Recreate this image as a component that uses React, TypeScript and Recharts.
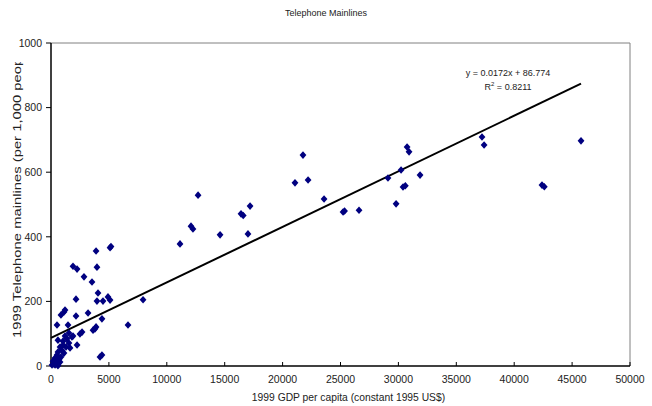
import React from "react"
import {
    ScatterChart,
    Scatter,
    XAxis,
    YAxis,
    ReferenceLine,
} from "recharts"

// 1999 GDP per capita (constant 1995 US$) and telephone mainlines per 1,000 people
const gdpPerCapita = [
    45770, 37220, 37400, 42400, 42600, 30750, 30920, 30230, 31870, 30400,
    30600, 29100, 29800, 26600, 25220, 25350, 23580, 22200, 21070, 21760,
    17190, 17010, 16410, 16600, 14600, 12700, 12090, 12260, 11140, 7950,
    6650, 5180, 5100, 3890, 1900, 2250, 2850, 3540, 3970, 2160,
    4060, 3970, 4490, 4920, 5100, 1120, 860, 1210, 2160, 3200,
    4400, 520, 1470, 3630, 3800, 3890, 2680, 2500, 2250, 4400,
    4230, 1210, 1380, 1550, 1040, 780, 1640, 600, 1120, 520,
    350, 860, 170, 520, 90, 350, 600, 780, 1300, 1810,
    1900, 1040, 1550, 600, 250, 420, 700, 950,
]
const mainlines = [
    697, 709, 684, 560, 555, 678, 663, 607, 591, 554,
    558, 582, 502, 482, 477, 480, 517, 576, 567, 653,
    495, 409, 471, 466, 406, 529, 433, 424, 378, 205,
    127, 370, 366, 356, 309, 300, 276, 260, 306, 207,
    226, 201, 201, 214, 204, 167, 158, 173, 155, 164,
    146, 127, 127, 111, 115, 121, 105, 99, 65, 34,
    28, 93, 84, 71, 65, 59, 56, 43, 40, 34,
    25, 28, 15, 9, 3, 3, 1, 12, 59, 90,
    93, 77, 102, 80, 6, 18, 22, 48,
]

const xTicks = [0, 5000, 10000, 15000, 20000, 25000, 30000, 35000, 40000, 45000, 50000]
const yTicks = [0, 200, 400, 600, 800, 1000]

// linear trend fitted to the series
const slope = 0.0172
const intercept = 86.774
const rSquared = 0.8211

const points = gdpPerCapita.map((gdp, i) => ({ gdp, lines: mainlines[i] }))
const xMax = Math.max(...gdpPerCapita)

const FONT = "'Liberation Sans', Arial, sans-serif"
const TEXT = "#222"

const Diamond = (props: any) => {
    const { cx, cy } = props
    if (cx == null || cy == null) return null
    return (
        <polygon
            points={`${cx},${cy - 3.8} ${cx + 3.4},${cy} ${cx},${cy + 3.8} ${cx - 3.4},${cy}`}
            fill="#000080"
        />
    )
}

// vertical title, stretched along its length and cut off near the top of the axis
const YTitle = () => (
    <g>
        <defs>
            <clipPath id="ytitle-clip">
                <rect x={0} y={62} width={45} height={320} />
            </clipPath>
        </defs>
        <g clipPath="url(#ytitle-clip)">
            <text
                transform="translate(21, 338) rotate(-90) scale(1.48, 1)"
                fontSize={10}
                fill={TEXT}
                fontFamily={FONT}
                textAnchor="start"
            >
                1999 Telephone mainlines (per 1,000 people)
            </text>
        </g>
    </g>
)

export default function App() {
    return (
        <div style={{ position: "absolute", left: 0, top: 0, width: 652, height: 406, background: "#fff", fontFamily: FONT }}>
            <div style={{ position: "absolute", left: 0, top: 8, width: 652, textAlign: "center", fontSize: 9, color: TEXT }}>
                Telephone Mainlines
            </div>
            <ScatterChart width={652} height={406} margin={{ top: 43, right: 22, bottom: 0, left: 0 }}>
                <XAxis
                    type="number"
                    dataKey="gdp"
                    domain={[0, 50000]}
                    ticks={xTicks}
                    interval={0}
                    height={40}
                    axisLine={{ stroke: "#000", strokeWidth: 1.5 }}
                    tickLine={{ stroke: "#000" }}
                    tickSize={-4}
                    tickMargin={14}
                    tick={{ fill: TEXT, fontSize: 10.5, fontFamily: FONT }}
                    label={{ value: "1999 GDP per capita (constant 1995 US$)", position: "insideBottom", offset: 5, dx: 8, fill: TEXT, fontSize: 10.3, fontFamily: FONT }}
                />
                <YAxis
                    type="number"
                    dataKey="lines"
                    domain={[0, 1000]}
                    ticks={yTicks}
                    interval={0}
                    width={51}
                    axisLine={{ stroke: "#000", strokeWidth: 1.5 }}
                    tickLine={{ stroke: "#000" }}
                    tickSize={5}
                    tickMargin={4}
                    tick={{ fill: TEXT, fontSize: 10.5, fontFamily: FONT }}
                    label={{ content: () => <YTitle /> }}
                />
                <ReferenceLine y={1000} stroke="#808080" />
                <ReferenceLine x={50000} stroke="#808080" />
                <Scatter data={points} shape={<Diamond />} isAnimationActive={false} />
                <ReferenceLine
                    segment={[
                        { x: 0, y: intercept },
                        { x: xMax, y: slope * xMax + intercept },
                    ]}
                    stroke="#000"
                    strokeWidth={2}
                />
            </ScatterChart>
            <div style={{ position: "absolute", left: 438, top: 66, width: 140, textAlign: "center", fontSize: 9, color: TEXT, lineHeight: "14px" }}>
                <div>{`y = ${slope}x + ${intercept}`}</div>
                <div>
                    R<sup style={{ fontSize: 6, verticalAlign: "top", lineHeight: "8px" }}>2</sup> = {rSquared}
                </div>
            </div>
        </div>
    )
}
